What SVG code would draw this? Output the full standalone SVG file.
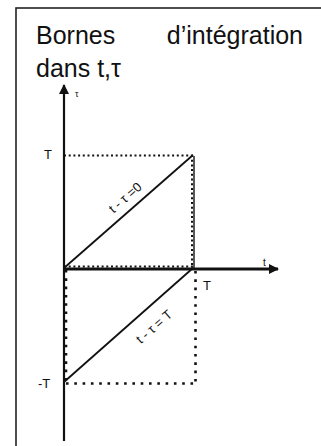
<svg xmlns="http://www.w3.org/2000/svg" width="321" height="446" viewBox="0 0 321 446">
<style>
.t{font-family:"Liberation Sans",Arial,sans-serif;fill:#111}
.ax{stroke:#111;fill:none}
.fine{stroke:#111;stroke-width:2;stroke-dasharray:2 2.7;fill:none}
.coarse{stroke:#111;stroke-width:2.6;stroke-dasharray:2.6 5.7;fill:none}
</style>
<defs>
<marker id="ah" markerWidth="10" markerHeight="10" refX="9" refY="5" orient="auto" markerUnits="userSpaceOnUse">
<path d="M0,0 L10,5 L0,10 Z" fill="#111"/>
</marker>
</defs>
<rect x="16" y="8" width="330" height="460" fill="#fff" stroke="#222" stroke-width="1.6"/>
<g id="title">
<text class="t" x="36" y="44" font-size="25">Bornes</text>
<text class="t" x="303" y="44" font-size="25" text-anchor="end">d’intégration</text>
<text class="t" x="36" y="77" font-size="25">dans t,τ</text>
</g>
<g id="connectors">
<line class="ax" x1="64" y1="441" x2="64" y2="85" stroke-width="2.2" marker-end="url(#ah)"/>
<line class="ax" x1="64" y1="269" x2="278" y2="269" stroke-width="2.8" marker-end="url(#ah)"/>
<line class="ax" x1="64" y1="268" x2="193" y2="155" stroke-width="1.8"/>
<line class="ax" x1="193" y1="268" x2="64" y2="382" stroke-width="1.8"/>
<line class="ax" x1="194" y1="156" x2="194" y2="268" stroke-width="1.4"/>
<path class="fine" d="M64,155.5 H193 M192,155 V268 M64,266.5 H193"/>
<path class="coarse" d="M66,270 V383 M66,383.5 H197 M195.5,271 V383"/>
</g>
<g id="labels">
<text class="t" x="75" y="97" font-size="9">τ</text>
<text class="t" x="263" y="266" font-size="10">t</text>
<text class="t" x="44" y="159" font-size="13">T</text>
<text class="t" x="38" y="388" font-size="13">-T</text>
<text class="t" x="203" y="290" font-size="13">T</text>
<text class="t" font-size="13" transform="translate(128,201) rotate(-41)" text-anchor="middle">t - τ =0</text>
<text class="t" font-size="13" transform="translate(157,330) rotate(-41)" text-anchor="middle">t - τ = T</text>
</g>
</svg>
